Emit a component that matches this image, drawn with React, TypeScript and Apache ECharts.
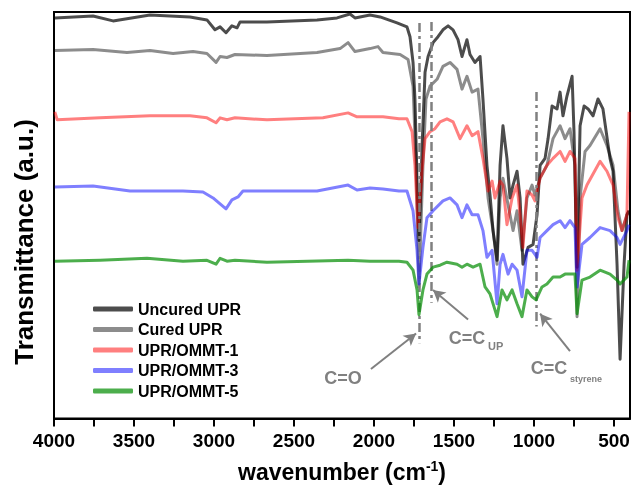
import React, { useEffect, useRef } from "react";
import * as echarts from "echarts";

const FONT = "'Liberation Sans', Arial, Helvetica, sans-serif";

const seriesNames = ["Uncured UPR", "Cured UPR", "UPR/OMMT-1", "UPR/OMMT-3", "UPR/OMMT-5"];
const seriesColors = [
  "rgba(0,0,0,0.7)",
  "rgba(0,0,0,0.45)",
  "rgba(255,0,0,0.5)",
  "rgba(0,0,255,0.5)",
  "rgba(0,140,0,0.7)",
];

// [wavenumber (cm-1), transmittance (a.u., offset)]
const uncuredUPR: [number, number][] = [
  [3995, 405], [3756, 407], [3631, 402], [3400, 408], [3150, 406], [3044, 403], [2994, 393], [2962, 396],
  [2925, 390], [2888, 397], [2856, 395], [2837, 401], [2669, 401], [2356, 403], [2231, 405], [2150, 409],
  [2119, 405], [2025, 408], [1962, 406], [1856, 400], [1794, 396], [1775, 386], [1756, 360], [1744, 323],
  [1731, 240], [1719, 180], [1706, 235], [1700, 273], [1681, 350], [1662, 366], [1631, 380], [1600, 386],
  [1569, 393], [1537, 397], [1506, 393], [1475, 383], [1450, 366], [1419, 383], [1400, 368], [1369, 360],
  [1337, 366], [1319, 323], [1294, 256], [1275, 226], [1256, 190], [1231, 160], [1212, 256], [1194, 296],
  [1169, 263], [1150, 223], [1131, 236], [1106, 250], [1087, 223], [1069, 156], [1037, 173], [1006, 176],
  [981, 206], [962, 256], [931, 263], [912, 283], [887, 316], [856, 313], [837, 330], [819, 306],
  [794, 326], [762, 346], [750, 290], [731, 153], [712, 296], [687, 316], [662, 313], [631, 306],
  [600, 323], [569, 313], [525, 263], [506, 250], [481, 156], [462, 60], [437, 156], [419, 206], [406, 210],
];

const curedUPR: [number, number][] = [
  [3995, 372], [3756, 373], [3544, 370], [3400, 372], [3256, 369], [3131, 371], [3044, 369], [2987, 360],
  [2962, 366], [2919, 365], [2869, 368], [2669, 367], [2356, 370], [2212, 374], [2162, 380], [2119, 371],
  [2025, 374], [1975, 376], [1944, 370], [1837, 368], [1787, 363], [1756, 336], [1737, 256], [1719, 133],
  [1694, 256], [1675, 323], [1650, 336], [1606, 343], [1569, 356], [1525, 360], [1481, 353], [1450, 333],
  [1419, 346], [1387, 330], [1350, 333], [1319, 283], [1287, 223], [1256, 190], [1231, 156], [1212, 223],
  [1194, 243], [1162, 216], [1131, 190], [1106, 210], [1075, 170], [1044, 223], [1012, 236], [994, 226],
  [962, 243], [919, 256], [881, 283], [837, 296], [806, 283], [775, 293], [744, 256], [731, 103],
  [712, 223], [681, 270], [650, 276], [587, 293], [544, 276], [506, 256], [475, 210], [450, 190],
  [419, 206], [406, 210],
];

const ommt1: [number, number][] = [
  [3995, 310], [3980, 302], [3712, 304], [3400, 306], [3150, 306], [3044, 304], [2987, 299], [2962, 304],
  [2919, 302], [2869, 304], [2669, 302], [2319, 304], [2162, 309], [2106, 305], [1944, 305], [1844, 303],
  [1794, 303], [1762, 290], [1744, 256], [1725, 193], [1700, 250], [1681, 283], [1650, 290], [1619, 293],
  [1587, 300], [1544, 303], [1506, 300], [1462, 283], [1419, 296], [1387, 286], [1350, 290], [1319, 263],
  [1287, 230], [1262, 240], [1244, 223], [1212, 240], [1194, 236], [1169, 196], [1137, 223], [1106, 236],
  [1087, 206], [1069, 173], [1044, 230], [1012, 226], [994, 220], [962, 243], [919, 256], [881, 263],
  [837, 270], [806, 260], [775, 270], [744, 263], [731, 150], [700, 223], [669, 236], [587, 260],
  [544, 250], [506, 236], [475, 203], [450, 190], [419, 206], [406, 310],
];

const ommt3: [number, number][] = [
  [3995, 234], [3756, 235], [3525, 230], [3194, 230], [3069, 229], [3006, 223], [2962, 217], [2925, 212],
  [2888, 221], [2850, 224], [2819, 230], [2356, 230], [2162, 236], [2106, 231], [2025, 233], [1944, 232],
  [1844, 230], [1794, 230], [1756, 210], [1731, 170], [1719, 136], [1694, 173], [1669, 203], [1631, 210],
  [1569, 220], [1525, 223], [1481, 216], [1450, 203], [1419, 216], [1387, 206], [1350, 206], [1319, 190],
  [1294, 163], [1262, 170], [1231, 116], [1212, 156], [1194, 166], [1162, 146], [1137, 156], [1106, 150],
  [1075, 123], [1044, 170], [1012, 170], [981, 163], [962, 183], [919, 190], [881, 196], [837, 200],
  [806, 193], [775, 200], [744, 193], [731, 133], [700, 176], [650, 183], [587, 193], [525, 190],
  [481, 183], [462, 176], [419, 190], [406, 196],
];

const ommt5: [number, number][] = [
  [3995, 159], [3712, 160], [3419, 162], [3194, 159], [3044, 160], [2987, 156], [2962, 162], [2919, 159],
  [2869, 160], [2669, 158], [2162, 160], [2025, 159], [1844, 159], [1794, 158], [1756, 150], [1731, 130],
  [1719, 105], [1694, 130], [1669, 146], [1631, 153], [1587, 155], [1544, 158], [1481, 156], [1450, 153],
  [1419, 156], [1381, 153], [1337, 156], [1306, 133], [1275, 126], [1231, 103], [1200, 130], [1169, 120],
  [1137, 130], [1106, 116], [1075, 103], [1044, 130], [1012, 123], [987, 120], [950, 133], [919, 136],
  [881, 143], [837, 143], [806, 146], [762, 146], [744, 146], [731, 106], [700, 140], [650, 143],
  [587, 150], [525, 146], [481, 140], [462, 136], [419, 143], [406, 160],
];

const seriesData = [uncuredUPR, curedUPR, ommt1, ommt3, ommt5];

const xTickValues = [500, 750, 1000, 1250, 1500, 1750, 2000, 2250, 2500, 2750, 3000, 3250, 3500, 3750, 4000];
const xLabelValues = [500, 1000, 1500, 2000, 2500, 3000, 3500, 4000];

// guide lines: [wavenumber, yTop, yBottom]
const guideLines: [number, number, number][] = [
  [1717, 400, 76],
  [1645, 401, 117],
  [983, 330, 93],
];
// arrows: [fromWn, fromY, toWn, toY]
const arrows: [number, number, number, number][] = [
  [2019, 50, 1737, 86],
  [1412, 100, 1631, 130],
  [775, 68, 962, 106],
];

const GREY = "#808080";

export default function App() {
  const ref = useRef<HTMLDivElement>(null);
  useEffect(() => {
    if (!ref.current) return;
    const chart = echarts.init(ref.current, null, { renderer: "svg" });
    const lineSeries = seriesNames.map((name, i) => ({
      name,
      type: "line",
      data: seriesData[i],
      showSymbol: false,
      symbol: "none",
      z: 2 + i,
      itemStyle: { color: seriesColors[i] },
      lineStyle: { color: seriesColors[i], width: 3, join: "round" },
    }));
    const option = {
      animation: false,
      grid: {
        left: 54, right: 3, top: 12, bottom: 65,
        show: true, borderColor: "#000", borderWidth: 2, backgroundColor: "transparent",
      },
      legend: {
        data: seriesNames,
        orient: "vertical",
        left: 93,
        top: 301,
        padding: 0,
        itemGap: 4.5,
        itemWidth: 40,
        itemHeight: 5,
        icon: "roundRect",
        textStyle: { fontSize: 16, fontWeight: "bold", color: "#000", fontFamily: FONT },
      },
      xAxis: {
        type: "value",
        inverse: true,
        min: 400,
        max: 4000,
        name: "{n|wavenumber (cm}{s|-1}{n|)}",
        nameLocation: "middle",
        nameGap: 40,
        nameTextStyle: {
          rich: {
            n: { fontSize: 23, fontWeight: "bold", color: "#000", fontFamily: FONT, lineHeight: 26 },
            s: { fontSize: 14, fontWeight: "bold", color: "#000", fontFamily: FONT, lineHeight: 14, verticalAlign: "top" },
          },
        },
        axisLine: { show: true, lineStyle: { color: "#000", width: 2 } },
        axisTick: { show: true, inside: false, length: 8, lineStyle: { color: "#000", width: 2 }, customValues: xTickValues },
        axisLabel: {
          customValues: xLabelValues,
          formatter: (v: number) => String(v),
          fontSize: 19, fontWeight: "bold", color: "#000", margin: 12, fontFamily: FONT,
        },
        splitLine: { show: false },
      },
      yAxis: {
        type: "value",
        min: 0,
        max: 411,
        axisLine: { show: true, lineStyle: { color: "#000", width: 2 } },
        axisTick: { show: false },
        axisLabel: { show: false },
        splitLine: { show: false },
      },
      series: [
        ...lineSeries,
        {
          name: "guides",
          type: "line",
          data: [],
          z: 10,
          markLine: {
            silent: true,
            symbol: ["none", "none"],
            label: { show: false },
            lineStyle: { color: GREY, width: 2.5, type: [9, 4, 3, 4], opacity: 1 },
            data: guideLines.map(([w, y1, y2]) => [{ coord: [w, y1] }, { coord: [w, y2] }]),
          },
        },
        {
          name: "arrows",
          type: "line",
          data: [],
          z: 10,
          markLine: {
            silent: true,
            symbol: ["none", "arrow"],
            symbolSize: [10, 12],
            label: { show: false },
            lineStyle: { color: GREY, width: 2, type: "solid", opacity: 1 },
            data: arrows.map(([a, b, c, d]) => [{ coord: [a, b] }, { coord: [c, d] }]),
          },
        },
      ],
      graphic: [
        { type: "text", x: 24, y: 242, rotation: Math.PI / 2, style: { text: "Transmittance (a.u.)", fill: "#000", fontSize: 26, fontWeight: "bold", fontFamily: FONT, align: "center", verticalAlign: "middle" } },
        { type: "text", x: 343, y: 378, style: { text: "C=O", fill: GREY, fontSize: 18, fontWeight: "bold", fontFamily: FONT, align: "center", verticalAlign: "middle" } },
        { type: "text", x: 467, y: 338, style: { text: "C=C", fill: GREY, fontSize: 18, fontWeight: "bold", fontFamily: FONT, align: "center", verticalAlign: "middle" } },
        { type: "text", x: 488, y: 346, style: { text: "UP", fill: GREY, fontSize: 11, fontWeight: "bold", fontFamily: FONT, align: "left", verticalAlign: "middle" } },
        { type: "text", x: 549, y: 368, style: { text: "C=C", fill: GREY, fontSize: 18, fontWeight: "bold", fontFamily: FONT, align: "center", verticalAlign: "middle" } },
        { type: "text", x: 570, y: 379, style: { text: "styrene", fill: GREY, fontSize: 9, fontWeight: "bold", fontFamily: FONT, align: "left", verticalAlign: "middle" } },
      ],
    };
    chart.setOption(option as any);
    return () => chart.dispose();
  }, []);
  return <div ref={ref} style={{ position: "fixed", left: 0, top: 0, width: 633, height: 488 }} />;
}
